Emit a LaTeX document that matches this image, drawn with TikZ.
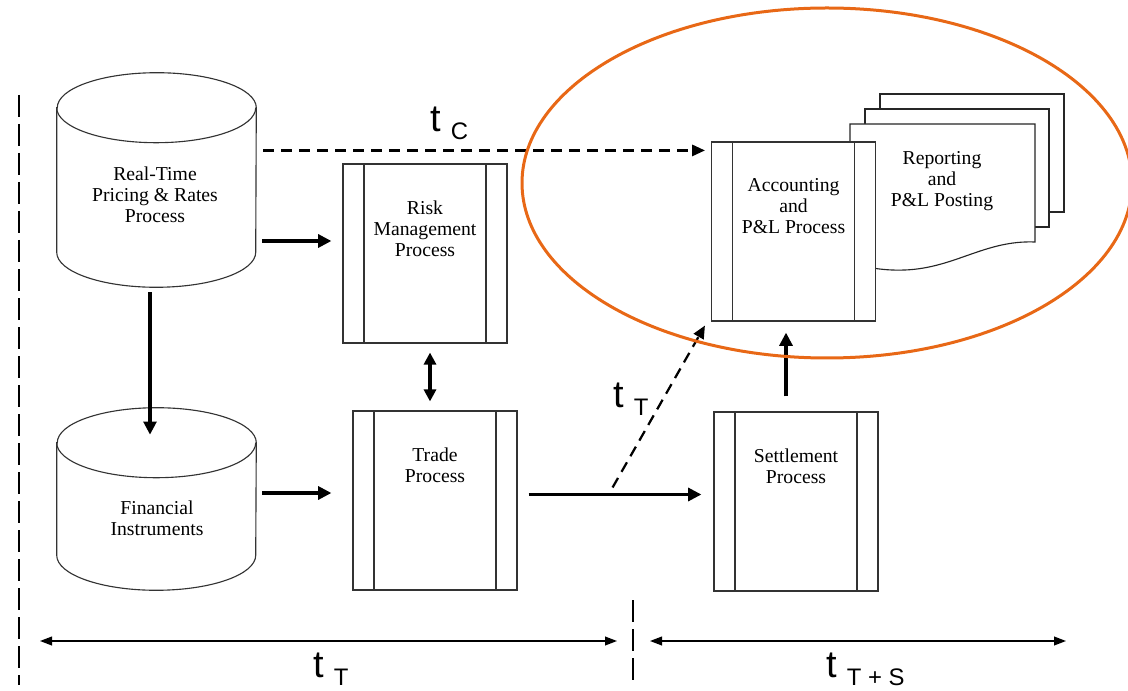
\documentclass[tikz,border=0pt]{standalone}
\usepackage{fontspec}
\setmainfont{Liberation Serif}
\newfontfamily\labelfont{Liberation Sans}
\usetikzlibrary{arrows.meta, calc, positioning}

\definecolor{ringorange}{RGB}{232,104,22}

\newcommand{\tlabel}[1]{{\labelfont\fontsize{27}{27}\selectfont t}\hspace{2.5mm}\raisebox{-2mm}{\labelfont\fontsize{17}{17}\selectfont #1}}

\tikzset{
  procbox/.style={draw=black!80, line width=0.8pt, fill=white,
    minimum width=41mm, minimum height=44.75mm, inner sep=0pt,
    path picture={
      \draw[black!80, line width=0.8pt] ([xshift=5.25mm]path picture bounding box.north west) -- ([xshift=5.25mm]path picture bounding box.south west);
      \draw[black!80, line width=0.8pt] ([xshift=-5.25mm]path picture bounding box.north east) -- ([xshift=-5.25mm]path picture bounding box.south east);
    }},
  boxtext/.style={align=center, inner sep=0pt, font=\fontsize{14}{15}\selectfont},
  cylframe/.style={minimum width=49.75mm, inner sep=0pt},
  cylline/.style={draw=black!80, line width=0.8pt, fill=white},
  docline/.style={draw=black!85, line width=0.8pt, fill=white},
  flow/.style={line width=2.6pt, -{Triangle[length=3.3mm, width=3.2mm]}},
  bothflow/.style={line width=2.6pt, {Triangle[length=3mm, width=3mm]}-{Triangle[length=3mm, width=3mm]}},
  dflow/.style={line width=1.6pt, dash pattern=on 2.75mm off 1.75mm, -{Triangle[length=3.2mm, width=2.8mm]}},
  span/.style={line width=1pt, {Triangle[length=3mm, width=2.2mm]}-{Triangle[length=3mm, width=2.2mm]}},
  divider/.style={line width=1.3pt, dash pattern=on 5.5mm off 1.75mm},
  ring/.style={draw=ringorange, line width=0.75mm},
}

\begin{document}
\begin{tikzpicture}[x=0.25mm, y=-0.25mm]
  \useasboundingbox (0,0) rectangle (1128,691);

  % databases
  \node[cylframe, minimum height=53.5mm] (rtp) at (156.5,180) {};
  \node[cylframe, minimum height=45.5mm] (fin) at (156.5,499) {};
  \foreach \c in {rtp,fin} {
    \draw[cylline] ($(\c.north west)+(0,35)$) -- ($(\c.south west)+(0,-35)$)
      arc[start angle=180, end angle=0, x radius=99.5, y radius=35]
      -- ($(\c.north east)+(0,35)$)
      arc[start angle=0, end angle=-180, x radius=99.5, y radius=35] -- cycle;
    \draw[cylline, fill=none] ($(\c.north west)+(0,35)$)
      arc[start angle=180, end angle=0, x radius=99.5, y radius=35];
  }
  \node[boxtext] (rtptxt) at (155,195) {Real-Time\\Pricing \& Rates\\Process};
  \node[boxtext] (fintxt) at (157,518) {Financial\\Instruments};

  % processes
  \node[procbox] (risk) at (425,253.5) {};
  \node[procbox] (trade) at (435,500.5) {};
  \node[procbox] (settle) at (796,501.5) {};
  \node[boxtext, below=9.25mm of risk.north] (risktxt) {Risk\\Management\\Process};
  \node[boxtext, below=9.25mm of trade.north] (tradetxt) {Trade\\Process};
  \node[boxtext, below=9.25mm of settle.north] (settletxt) {Settlement\\Process};

  % report stack
  \draw[docline] (880,94) rectangle (1064,212);
  \draw[docline] (865,109) rectangle (1049,227);
  \draw[docline] (850,124) -- (1035,124) -- (1035,242)
    .. controls (985,240) and (955,268) .. (905,270)
    .. controls (880,271) and (860,266) .. (850,262) -- cycle;
  \node[boxtext] (reptxt) at (942,181.5) {Reporting\\and\\P\&L Posting};

  \node[procbox] (acct) at (793.5,231.5) {};
  \node[boxtext, below=9.25mm of acct.north] (accttxt) {Accounting\\and\\P\&L Process};

  % flows
  \coordinate (a1) at ($(rtp.east)+(6,61)$);
  \draw[flow, shorten >=2.75mm] (a1) -- (a1 -| risk.west);
  \coordinate (a2) at ($(fin.east)+(6,-6)$);
  \draw[flow, shorten >=5.25mm] (a2) -- (a2 -| trade.west);
  \draw[flow] ($(rtp.south)+(-6.5,5)$) -- ($(fin.north)+(-6.5,27)$);
  \draw[bothflow] ($(risk.south)+(5,9)$) -- ($(trade.north)+(-5,-9)$);
  \coordinate (a3) at ($(trade.east)+(11,-6)$);
  \draw[flow, shorten >=3mm] (a3) -- (a3 -| settle.west);
  \draw[flow] ($(settle.north)+(-10,-15)$) -- ($(acct.south)+(-7.5,11)$);

  \coordinate (fork) at ($(a3)+(84,-7)$);
  \draw[dflow] (fork) -- ($(acct.south west)+(-6,4)$);
  \coordinate (tcend) at ($(acct.north west)+(-6,9)$);
  \draw[dflow] ($(tcend -| rtp.east)+(7,0)$) -- (tcend);

  \node[anchor=base west, inner sep=0pt] (tc) at (430,132) {\tlabel{C}};
  \node[anchor=base west, inner sep=0pt] (tt) at (613,408) {\tlabel{T}};

  % time spans
  \draw[divider] (19,95) -- (19,685);
  \draw[divider] (633,600) -- (633,682);
  \coordinate (tstart) at (40,641);
  \coordinate (tsplit) at (633,641);
  \coordinate (tend) at (1066,641);
  \draw[span] (tstart) -- ($(tsplit)+(-16,0)$);
  \draw[span] ($(tsplit)+(17,0)$) -- (tend);
  \node[anchor=base west, inner sep=0pt] (ttrade) at (313,677) {\tlabel{T}};
  \node[anchor=base west, inner sep=0pt] (tsettle) at (826,677) {\tlabel{T + S}};

  \draw[ring] (827,183) ellipse [x radius=305, y radius=175];
\end{tikzpicture}
\end{document}
